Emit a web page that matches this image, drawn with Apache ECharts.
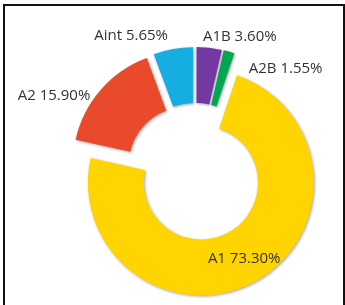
<!DOCTYPE html>
<html>
<head>
<meta charset="utf-8">
<script src="https://cdn.jsdelivr.net/npm/echarts@6/dist/echarts.min.js"></script>
<style>
  html, body { margin: 0; padding: 0; background: #fff; overflow: hidden; }
  #chart { position: absolute; left: 0; top: 0; width: 345px; height: 305px; }
  .frame {
    position: absolute; left: 3px; top: 4px; width: 338px; height: 320px;
    border: 2px solid #111; pointer-events: none;
  }
</style>
</head>
<body>
<div id="chart"></div>
<div class="frame"></div>
<script>
const categories = ["A1", "A2", "Aint", "A1B", "A2B"];
const shares = [73.3, 15.9, 5.65, 3.6, 1.55];
const colors = ["#ffd400", "#e84a2b", "#16ade3", "#7438a3", "#00a651"];

// label nudges (px) so the outside labels sit where the original has them
const nudges = {
  A2: [-1, 10],
  Aint: [1, -7],
  A1B: [-12, -5],
  A2B: [-13, 10],
};

const chart = echarts.init(document.getElementById("chart"));

chart.setOption({
  animation: false,
  series: [
    {
      type: "pie",
      center: [195, 172],
      radius: [57, 113],
      startAngle: 71.4,
      clockwise: true,
      selectedMode: "multiple",
      selectedOffset: 12,
      emphasis: { disabled: true },
      itemStyle: {
        shadowBlur: 3,
        shadowColor: "rgba(0,0,0,0.35)",
        shadowOffsetX: 1,
        shadowOffsetY: 1,
      },
      label: {
        position: "outside",
        formatter: (p) => p.name + " " + p.value.toFixed(2) + "%",
        fontFamily: "Open Sans",
        fontSize: 15,
        color: "#333",
      },
      labelLine: { show: false, length: 6, length2: 0 },
      labelLayout: (params) => {
        const n = nudges[categories[params.dataIndex]];
        return n ? { dx: n[0], dy: n[1] } : {};
      },
      data: categories.map((name, i) => ({
        name,
        value: shares[i],
        selected: true,
        itemStyle: { color: colors[i] },
        label: i === 0 ? { position: "inside" } : undefined,
      })),
    },
  ],
});
</script>
</body>
</html>
